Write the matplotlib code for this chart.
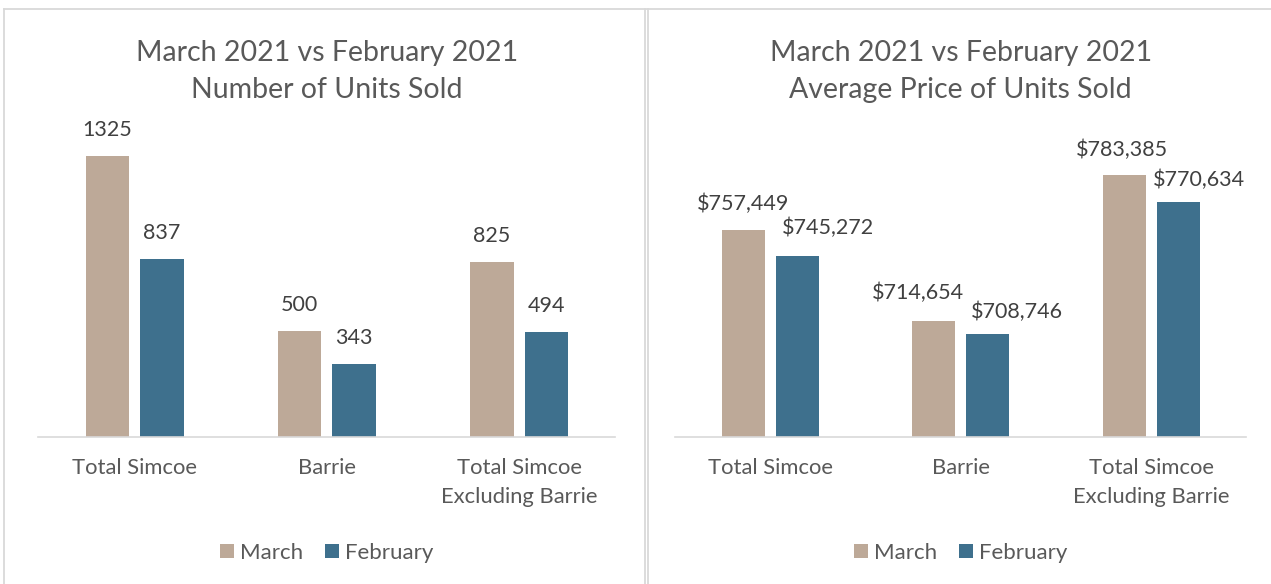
import matplotlib
matplotlib.use("Agg")
import matplotlib.pyplot as plt
from matplotlib.lines import Line2D
import numpy as np

plt.rcParams["font.family"] = ["Lato", "DejaVu Sans"]

# data
categories = ["Total Simcoe", "Barrie", "Total Simcoe\nExcluding Barrie"]
series = ["March", "February"]
units_march = [1325, 500, 825]
units_feb = [837, 343, 494]
price_march = [757449, 714654, 783385]
price_feb = [745272, 708746, 770634]

C_MARCH = "#BDA998"
C_FEB = "#3E708D"
C_TITLE = "#595959"
C_LABEL = "#404040"
C_GRID = "#D9D9D9"

W, H = 1271, 584
fig = plt.figure(figsize=(W / 100, H / 100), dpi=100)


def px(x0, x1):
    return x0 / W, x1 / W


def draw(rect, march, feb, ylim, fmt, title, off_m, off_f):
    ax = fig.add_axes(rect)
    x = np.arange(len(categories))
    w, d = 0.226, 0.142
    bm = ax.bar(x - d, march, w, color=C_MARCH, label=series[0], zorder=2)
    bf = ax.bar(x + d, feb, w, color=C_FEB, label=series[1], zorder=2)
    ax.set_xlim(-0.5, len(categories) - 0.5)
    ax.set_ylim(*ylim)
    for s in ["top", "right", "left"]:
        ax.spines[s].set_visible(False)
    ax.spines["bottom"].set_color(C_GRID)
    ax.spines["bottom"].set_linewidth(1.2)
    ax.set_yticks([])
    ax.set_xticks(x)
    ax.set_xticklabels(categories, fontsize=15.8, color=C_TITLE, linespacing=1.55)
    ax.tick_params(axis="x", length=0, pad=15)
    for bars, vals, offs in [(bm, march, off_m), (bf, feb, off_f)]:
        for b, v, (dx, dy) in zip(bars, vals, offs):
            ax.annotate(fmt(v), xy=(b.get_x() + b.get_width() / 2, v),
                        xytext=(dx * 0.72, dy * 0.72), textcoords="offset points",
                        ha="center", va="center", fontsize=15.5, color=C_LABEL)
    ax.text(0.5, 1.230, title, transform=ax.transAxes, ha="center", va="center",
            fontsize=20.5, color=C_TITLE, linespacing=1.55)
    ax.legend(loc="center", bbox_to_anchor=(0.5, -0.39), ncol=2, frameon=False,
              fontsize=16, labelcolor=C_TITLE, handlelength=0.62, handleheight=0.62,
              handletextpad=0.27, columnspacing=1.0)
    return ax


bottom = (H - 437) / H
height = 297 / H

l0, l1 = px(38.4, 615.3)
draw([l0, bottom, l1 - l0, height], units_march, units_feb, (0, 1400),
     lambda v: f"{v}", "March 2021 vs February 2021\nNumber of Units Sold",
     [(0, 26), (0, 26), (0, 26)], [(0, 26), (0, 26), (0, 26)])

r0, r1 = px(675.3, 1246.2)
draw([r0, bottom, r1 - r0, height], price_march, price_feb, (660000, 800000),
     lambda v: f"${v:,}", "March 2021 vs February 2021\nAverage Price of Units Sold",
     [(0, 26), (-16, 28), (-2, 25)], [(31, 28), (29, 22), (21, 22)])

# panel borders
for xs, ys in [((4, W), (9, 9)), ((4, 4), (9, H)), ((645, 645), (9, H)), ((648, 648), (9, H))]:
    fig.add_artist(Line2D([v / W for v in xs], [1 - v / H for v in ys],
                          transform=fig.transFigure, color=C_GRID, lw=1.3))

fig.savefig("out.png", dpi=100)
